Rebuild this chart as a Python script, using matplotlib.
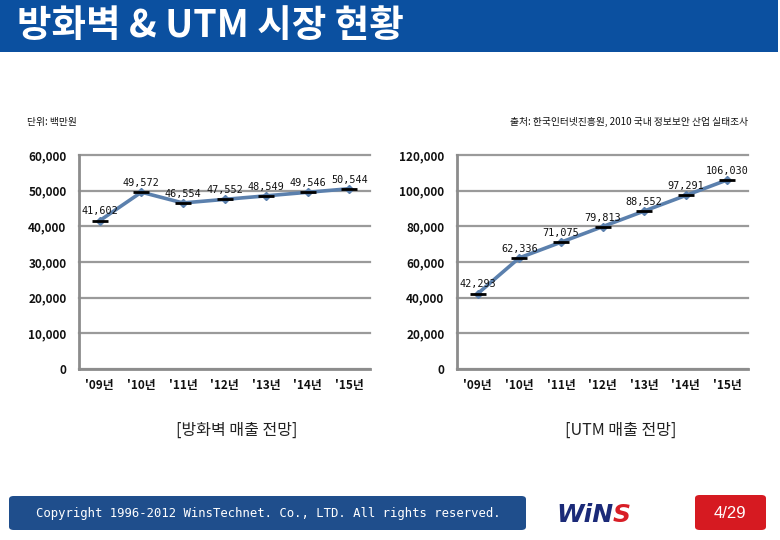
import matplotlib
matplotlib.use("Agg")
import matplotlib.pyplot as plt
from matplotlib.patches import FancyBboxPatch, Rectangle
from matplotlib.ticker import FuncFormatter

plt.rcParams['font.family'] = ['Noto Sans CJK KR', 'DejaVu Sans']

years = ["'09년", "'10년", "'11년", "'12년", "'13년", "'14년", "'15년"]
firewall = [41602, 49572, 46554, 47552, 48549, 49546, 50544]
utm = [42293, 62336, 71075, 79813, 88552, 97291, 106030]
fw_ticks = [0, 10000, 20000, 30000, 40000, 50000, 60000]
utm_ticks = [0, 20000, 40000, 60000, 80000, 100000, 120000]

W, H = 780, 540
fig = plt.figure(figsize=(W / 100, H / 100), dpi=100)

def fx(x):
    return x / W

def fy(y):
    return 1 - y / H

# header bar
fig.patches.append(Rectangle((0, fy(52)), fx(778), 52 / H, transform=fig.transFigure,
                             facecolor='#0b50a0', edgecolor='none', zorder=0))
fig.text(fx(17), fy(25), "방화벽 & UTM 시장 현황", color='white', fontsize=27,
         fontweight='bold', va='center', ha='left')

fig.text(fx(27), fy(122), "단위: 백만원", fontsize=7, va='center', ha='left', color='#111111')
fig.text(fx(748), fy(122), "출처: 한국인터넷진흥원, 2010 국내 정보보안 산업 실태조사", fontsize=7,
         va='center', ha='right', color='#111111')

line_color = '#5b80ad'
grid_color = '#9a9a9a'

def draw(ax, values, ticks):
    xs = list(range(len(values)))
    ax.plot(xs, values, color=line_color, lw=2.6, marker='D', ms=4,
            mfc=line_color, mec=line_color, zorder=3, solid_capstyle='round')
    ax.plot(xs, values, ls='none', marker='_', ms=12, mew=2, color='black', zorder=4)
    for x, v in zip(xs, values):
        ax.annotate(f"{v:,}", (x, v), xytext=(0, 3), textcoords='offset points',
                    ha='center', va='bottom', fontsize=7.3, family='DejaVu Sans Mono',
                    color='#111111', zorder=5)
    ax.set_xlim(-0.5, len(values) - 0.5)
    ax.set_ylim(ticks[0], ticks[-1])
    ax.set_yticks(ticks)
    ax.yaxis.set_major_formatter(FuncFormatter(lambda v, p: f"{int(v):,}"))
    ax.set_xticks(xs)
    ax.set_xticklabels(years)
    ax.grid(axis='y', color=grid_color, lw=1.6)
    ax.set_axisbelow(True)
    for s in ['top', 'right']:
        ax.spines[s].set_visible(False)
    for s in ['left', 'bottom']:
        ax.spines[s].set_color('#8c8c8c')
        ax.spines[s].set_linewidth(2)
    ax.tick_params(axis='both', length=0)
    ax.tick_params(axis='y', pad=9, labelsize=8.5)
    ax.tick_params(axis='x', pad=7, labelsize=8.5)
    for t in ax.get_yticklabels() + ax.get_xticklabels():
        t.set_fontweight('bold')
        t.set_color('#111111')
    for gl in ax.get_ygridlines():
        gl.set_clip_on(False)

ax1 = fig.add_axes([fx(79), fy(369), fx(370 - 79), (369 - 155) / H])
draw(ax1, firewall, fw_ticks)
ax2 = fig.add_axes([fx(457), fy(369), fx(748 - 457), (369 - 155) / H])
draw(ax2, utm, utm_ticks)

fig.text(fx(237), fy(430), "[방화벽 매출 전망]", fontsize=11.5, ha='center', va='center',
         color='#222222', fontweight='light')
fig.text(fx(621), fy(430), "[UTM 매출 전망]", fontsize=11.5, ha='center', va='center',
         color='#222222', fontweight='light')

# footer
fig.patches.append(FancyBboxPatch((fx(9), fy(530)), fx(517), 34 / H,
                                  boxstyle="round,pad=0,rounding_size=0.006",
                                  transform=fig.transFigure, facecolor='#1f4e8c',
                                  edgecolor='none', zorder=0))
fig.text(fx(268), fy(514), "Copyright 1996-2012 WinsTechnet. Co., LTD. All rights reserved.",
         color='white', fontsize=8.8, ha='center', va='center', family='DejaVu Sans Mono')

fig.text(fx(556), fy(515), "WiN", color='#1b2a78', fontsize=18, fontweight='heavy',
         fontstyle='italic', ha='left', va='center', family='DejaVu Sans')
fig.text(fx(613), fy(515), "S", color='#d81e26', fontsize=18, fontweight='heavy',
         fontstyle='italic', ha='left', va='center', family='DejaVu Sans')

fig.patches.append(FancyBboxPatch((fx(695), fy(530)), fx(71), 35 / H,
                                  boxstyle="round,pad=0,rounding_size=0.006",
                                  transform=fig.transFigure, facecolor='#d61a21',
                                  edgecolor='none', zorder=0))
fig.text(fx(730), fy(514), "4/29", color='white', fontsize=12, ha='center', va='center',
         family='Liberation Sans')

fig.savefig("out.png", dpi=100)
